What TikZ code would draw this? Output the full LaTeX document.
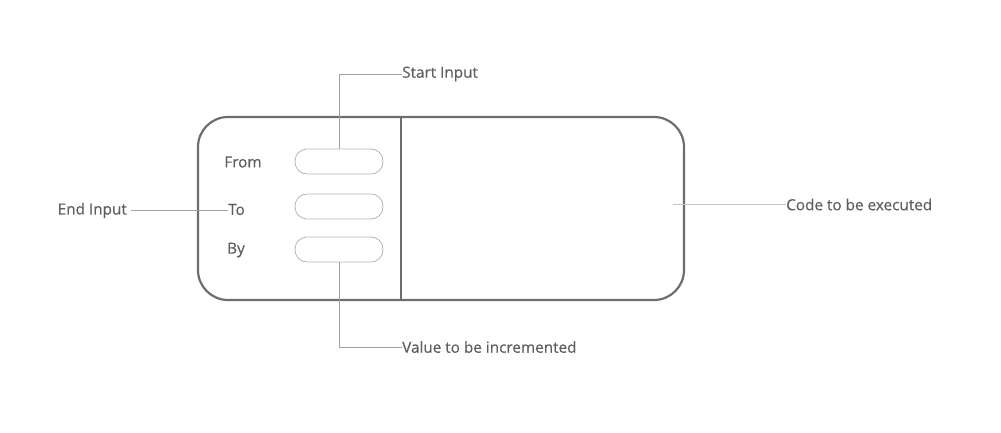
\documentclass[tikz,border=0pt]{standalone}
\usepackage{fontspec}
\setmainfont{Open Sans}[FakeBold=0.4]
\definecolor{boxgray}{HTML}{6E6E6E}
\definecolor{pillgray}{HTML}{B4B4B4}
\definecolor{linegray}{HTML}{A0A0A0}
\definecolor{textgray}{HTML}{5E5E5E}
\begin{document}
\begin{tikzpicture}[x=1pt,y=-1pt,
  txt/.style={font=\fontsize{15.3}{17}\selectfont, text=textgray, inner sep=0pt},
  pill/.style={draw=pillgray, line width=0.8pt, rounded corners=12pt, minimum width=88pt, minimum height=25pt, inner sep=0pt},
  outer/.style={draw=boxgray, line width=2.2pt, rounded corners=30pt, minimum width=486pt, minimum height=183pt, inner sep=0pt},
  conn/.style={draw=linegray, line width=0.8pt},
  lconn/.style={draw=pillgray!80, line width=0.9pt}]
\useasboundingbox (0,0) rectangle (1001,433);
\node[outer] (box) at (441,208.5) {};
\coordinate (dtop) at (401,117);
\coordinate (dbot) at (401,300);
\draw[draw=boxgray, line width=2.2pt] (dtop) -- (dbot);
\node[pill] (pFrom) at (339,161.5) {};
\node[pill] (pTo) at (339,206.5) {};
\node[pill] (pBy) at (339,249.5) {};
\node[txt] (lFrom) at (243,162) {From};
\node[txt, anchor=west] (lTo) at (228,209.5) {To};
\node[txt] (lBy) at (236,250) {By};
\node[txt, anchor=west] (start) at (402,74) {Start Input};
\node[txt, anchor=east] (endin) at (127,210.5) {End Input};
\node[txt, anchor=west] (value) at (402,347) {Value to be incremented};
\node[txt, anchor=west] (code) at (786,204.5) {Code to be executed};
\coordinate (cstart) at (673,204.5);
\draw[conn] (pFrom.north) |- (start.west);
\draw[conn] (pBy.south) |- (value.west);
\draw[conn] ([xshift=4pt]endin.east) -- (endin.east -| lTo.west);
\draw[lconn] (cstart) -- (code.west);
\end{tikzpicture}
\end{document}
